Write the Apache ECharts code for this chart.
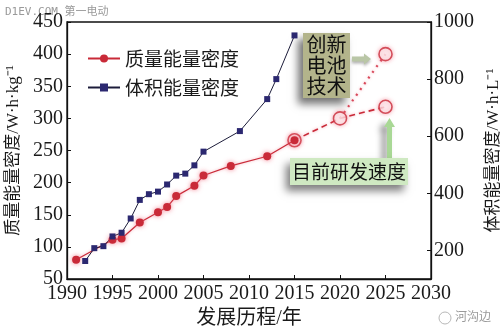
<!DOCTYPE html>
<html>
<head>
<meta charset="utf-8">
<script src="https://cdn.jsdelivr.net/npm/echarts@6/dist/echarts.min.js"></script>
<style>
  html, body { margin: 0; padding: 0; background: #ffffff; }
  #chart { width: 500px; height: 331px; }
</style>
</head>
<body>
<div id="chart"></div>
<script>
// Gravimetric energy density (W·h/kg), measured
const massYears = [1991, 1995, 1996, 1998, 2000, 2001, 2002, 2004, 2005, 2008, 2012, 2015];
const massValues = [80, 111, 113, 138, 154, 162, 179, 195, 211, 226, 241, 266];

// Volumetric energy density (W·h/L), measured
const volYears = [1992, 1993, 1994, 1995, 1996, 1997, 1998, 1999, 2000, 2001, 2002, 2003, 2004, 2005, 2009, 2012, 2013, 2015];
const volValues = [163, 208, 215, 249, 262, 312, 377, 397, 406, 431, 462, 469, 498, 546, 618, 730, 800, 953];

// Projection at the current R&D pace
const paceYears = [2015, 2020, 2025];
const paceValues = [266, 300, 318];

// Projection with new battery technology
const newTechYears = [2020, 2025];
const newTechValues = [300, 400];

// Open circles marking projected milestones
const milestoneYears = [2015, 2020, 2025, 2025];
const milestoneValues = [266, 300, 318, 400];

// Axis ticks
const xTicks = [1990, 1995, 2000, 2005, 2010, 2015, 2020, 2025, 2030];
const rightTicks = [200, 400, 600, 800, 1000];

const pairs = (xs, ys) => xs.map((x, i) => [x, ys[i]]);

const RED = '#c92a38';
const BLUE = '#2b2870';
const NUM_FONT = "'Liberation Serif', 'Noto Sans CJK SC', serif";
const CJK_FONT = "'Liberation Serif', 'Noto Sans CJK SC', sans-serif";

const chart = echarts.init(document.getElementById('chart'), null, { renderer: 'canvas' });

const axisCommon = {
  axisLine: { show: true, onZero: false, lineStyle: { color: '#111', width: 1.3 } },
  axisTick: { show: true, inside: true, length: 4, lineStyle: { color: '#111' } },
  splitLine: { show: false },
  axisLabel: { color: '#1a1a1a', fontFamily: NUM_FONT, fontSize: 20, formatter: v => String(v) }
};

chart.setOption({
  animation: false,
  backgroundColor: '#ffffff',
  grid: {
    left: 67, right: 69, top: 22, bottom: 52,
    outerBoundsMode: 'none', containLabel: false,
    show: true, borderColor: '#111', borderWidth: 1.3, backgroundColor: 'transparent'
  },
  legend: {
    data: ['质量能量密度', '体积能量密度'],
    orient: 'vertical',
    left: 82, top: 44,
    itemWidth: 32, itemHeight: 10, itemGap: 10,
    textStyle: { fontFamily: 'Noto Sans CJK SC', fontSize: 19, color: '#1a1a1a' }
  },
  xAxis: Object.assign({}, axisCommon, {
    type: 'value', min: 1990, max: 2030, interval: 5,
    name: '发展历程/年', nameLocation: 'middle', nameGap: 29,
    nameTextStyle: { fontFamily: CJK_FONT, fontSize: 20, color: '#1a1a1a' },
    axisLabel: Object.assign({}, axisCommon.axisLabel, { margin: 5, customValues: xTicks })
  }),
  yAxis: [
    Object.assign({}, axisCommon, {
      type: 'value', min: 50, max: 450, interval: 50,
      name: '质量能量密度/W·h·kg⁻¹', nameLocation: 'middle', nameGap: 40,
      nameTextStyle: { fontFamily: CJK_FONT, fontSize: 17, color: '#1a1a1a' },
      axisLabel: Object.assign({}, axisCommon.axisLabel, { margin: 4 })
    }),
    Object.assign({}, axisCommon, {
      type: 'value', min: 100, max: 1000, position: 'right',
      name: '体积能量密度/W·h·L⁻¹', nameLocation: 'middle', nameGap: 42,
      nameTextStyle: { fontFamily: CJK_FONT, fontSize: 17, color: '#1a1a1a' },
      axisTick: Object.assign({}, axisCommon.axisTick, { customValues: rightTicks }),
      axisLabel: Object.assign({}, axisCommon.axisLabel, { margin: 3, customValues: rightTicks })
    })
  ],
  series: [
    {
      name: '当前速度',
      type: 'line', yAxisIndex: 0, z: 1,
      data: pairs(paceYears, paceValues),
      symbol: 'none',
      lineStyle: { color: RED, width: 1.6, type: [6, 4], shadowBlur: 3, shadowColor: 'rgba(240,110,130,0.6)' },
      silent: true
    },
    {
      name: '新技术',
      type: 'line', yAxisIndex: 0, z: 1,
      data: pairs(newTechYears, newTechValues),
      symbol: 'none',
      lineStyle: { color: '#d8485a', width: 2.2, type: [2, 5], shadowBlur: 3, shadowColor: 'rgba(240,110,130,0.6)' },
      silent: true
    },
    {
      name: '预测节点',
      type: 'scatter', yAxisIndex: 0, z: 2,
      data: pairs(milestoneYears, milestoneValues),
      symbol: 'circle', symbolSize: 13,
      itemStyle: { color: 'rgba(255,255,255,0.85)', borderColor: RED, borderWidth: 1.6,
                   shadowBlur: 4, shadowColor: 'rgba(240,110,130,0.7)' }
    },
    {
      name: '质量能量密度',
      type: 'line', yAxisIndex: 0, z: 3,
      data: pairs(massYears, massValues),
      symbol: 'circle', symbolSize: 8,
      itemStyle: { color: RED, shadowBlur: 5, shadowColor: 'rgba(240,100,120,0.8)' },
      lineStyle: { color: RED, width: 1.2, shadowBlur: 3, shadowColor: 'rgba(240,110,130,0.6)' }
    },
    {
      name: '体积能量密度',
      type: 'line', yAxisIndex: 1, z: 3,
      data: pairs(volYears, volValues),
      symbol: 'rect', symbolSize: 6,
      itemStyle: { color: BLUE },
      lineStyle: { color: '#1c1c3a', width: 1 }
    }
  ],
  graphic: [
    // site watermark, top left
    { type: 'text', left: 5, top: 7,
      style: { text: 'D1EV.COM 第一电动', fill: '#9a9a9a', font: "11px 'DejaVu Sans Mono', 'Noto Sans CJK SC'" } },
    // "new battery technology" callout
    { type: 'rect', shape: { x: 303, y: 33, width: 47, height: 65 },
      style: { fill: '#b3b48b', shadowBlur: 8, shadowColor: 'rgba(0,0,0,0.55)', shadowOffsetX: -5, shadowOffsetY: 6 } },
    { type: 'text', x: 326.5, y: 65.5,
      style: { text: '创新\n电池\n技术', fill: '#111', font: "20px 'Noto Sans CJK SC'", lineHeight: 21,
               align: 'center', verticalAlign: 'middle' } },
    { type: 'polygon',
      shape: { points: [[352, 56.5], [364, 56.5], [364, 53.5], [371, 59], [364, 64.5], [364, 61.5], [352, 61.5]] },
      style: { fill: '#b9c6a6', shadowBlur: 3, shadowColor: 'rgba(0,0,0,0.3)', shadowOffsetY: 2 } },
    // "current R&D pace" callout
    { type: 'polygon',
      shape: { points: [[387, 158], [387, 127], [384, 127], [389.5, 118], [395, 127], [392, 127], [392, 158]] },
      style: { fill: '#a9d896', shadowBlur: 6, shadowColor: 'rgba(0,0,0,0.45)', shadowOffsetX: -5, shadowOffsetY: 4 } },
    { type: 'rect', shape: { x: 290, y: 158, width: 118, height: 27 },
      style: { fill: '#cfe9c2', shadowBlur: 8, shadowColor: 'rgba(0,0,0,0.5)', shadowOffsetX: -4, shadowOffsetY: 6 } },
    { type: 'text', x: 349, y: 171.5,
      style: { text: '目前研发速度', fill: '#111', font: "19px 'Noto Sans CJK SC'",
               align: 'center', verticalAlign: 'middle' } },
    // account watermark, bottom right
    { type: 'circle', shape: { cx: 445, cy: 318, r: 6 },
      style: { fill: 'none', stroke: '#b8b8b8', lineWidth: 1 } },
    { type: 'text', left: 455, top: 310,
      style: { text: '河沟边', fill: '#9a9a9a', font: "12px 'Noto Sans CJK SC'" } }
  ]
});
</script>
</body>
</html>
